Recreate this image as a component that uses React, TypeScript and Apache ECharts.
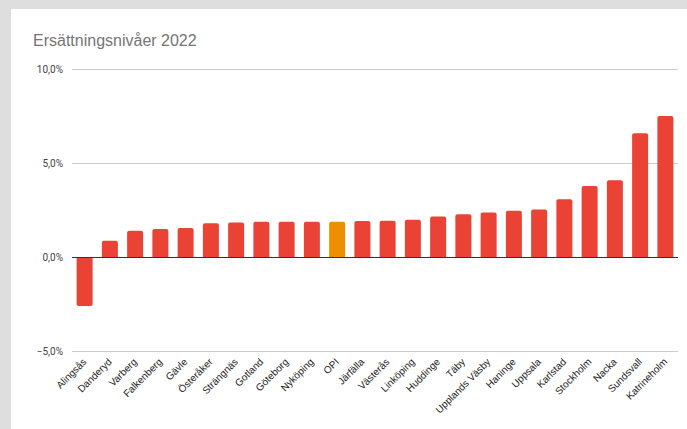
import React, { useEffect, useRef } from "react";
import * as echarts from "echarts";

const title = "Ersättningsnivåer 2022";
const categories = [
  "Alingsås", "Danderyd", "Varberg", "Falkenberg", "Gävle", "Österåker", "Strängnäs",
  "Gotland", "Göteborg", "Nyköping", "OPI", "Järfälla", "Västerås", "Linköping",
  "Huddinge", "Täby", "Upplands Väsby", "Haninge", "Uppsala", "Karlstad",
  "Stockholm", "Nacka", "Sundsvall", "Katrineholm",
];
const values = [
  -2.6, 0.87, 1.4, 1.49, 1.54, 1.79, 1.84, 1.88, 1.88, 1.88, 1.88, 1.92, 1.93, 1.98,
  2.16, 2.27, 2.37, 2.46, 2.52, 3.07, 3.77, 4.08, 6.58, 7.5,
];
const highlight = "OPI";
const yTicks = [-5, 0, 5, 10];

const RED = "#ea4335";
const ORANGE = "#ee8f00";

export default function App() {
  const ref = useRef<HTMLDivElement>(null);
  useEffect(() => {
    document.body.style.margin = "0";
    const chart = echarts.init(ref.current!, null, { renderer: "svg" });
    chart.setOption({
      animation: false,
      backgroundColor: "#ffffff",
      textStyle: { fontFamily: "'Liberation Sans', Arial, sans-serif" },
      title: {
        text: title,
        left: 17,
        top: 18,
        textStyle: { fontFamily: "'Liberation Sans', Arial, sans-serif", fontSize: 16, fontWeight: "normal", color: "#757575" },
      },
      grid: { left: 61, right: 9, top: 60, bottom: 78 },
      xAxis: {
        type: "category",
        data: categories,
        axisTick: { show: false },
        axisLine: { show: false },
        axisLabel: {
          rotate: 45,
          interval: 0,
          fontSize: 10,
          color: "#222222",
          margin: 9,
          fontFamily: "'Liberation Sans', Arial, sans-serif",
        },
      },
      yAxis: {
        type: "value",
        min: yTicks[0],
        max: yTicks[yTicks.length - 1],
        interval: 5,
        axisLine: { show: false },
        axisTick: { show: false },
        splitLine: { lineStyle: { color: "#cccccc", width: 1 } },
        axisLabel: {
          fontSize: 10,
          color: "#444444",
          margin: 9,
          fontFamily: "Roboto, Arial, sans-serif",
          formatter: (v: number) => (v < 0 ? "−" : "") + Math.abs(v).toFixed(1).replace(".", ",") + "%",
        },
      },
      series: [
        {
          type: "bar",
          data: values.map((v, i) => ({
            value: v,
            itemStyle: {
              color: categories[i] === highlight ? ORANGE : RED,
              borderRadius: v >= 0 ? [2, 2, 0, 0] : [0, 0, 2, 2],
            },
          })),
          barWidth: 16,
          markLine: {
            silent: true,
            symbol: "none",
            label: { show: false },
            lineStyle: { color: "#333333", width: 1, type: "solid" },
            data: [{ yAxis: 0 }],
          },
        },
      ],
    });
    return () => chart.dispose();
  }, []);
  return (
    <div style={{ position: "relative", width: 687, height: 429, background: "#dedede", overflow: "hidden" }}>
      <div
        ref={ref}
        style={{ position: "absolute", left: 11, top: 9, width: 676, height: 420, background: "#ffffff" }}
      />
    </div>
  );
}
